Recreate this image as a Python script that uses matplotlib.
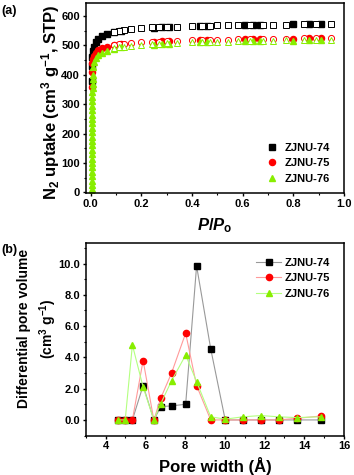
import matplotlib
matplotlib.use("Agg")
import matplotlib.pyplot as plt
from matplotlib.ticker import MultipleLocator, FormatStrFormatter

plt.rcParams['font.family'] = ['Liberation Sans', 'DejaVu Sans']
plt.rcParams['font.weight'] = 'bold'
plt.rcParams['mathtext.fontset'] = 'custom'
plt.rcParams['mathtext.rm'] = 'Liberation Sans:bold'
plt.rcParams['mathtext.it'] = 'Liberation Sans:italic:bold'
plt.rcParams['mathtext.bf'] = 'Liberation Sans:bold'

# ---------------- (a) N2 isotherms ----------------
labels = ['ZJNU-74', 'ZJNU-75', 'ZJNU-76']
colors = ['#000000', '#ff0000', '#88ee00']
markers = ['s', 'o', '^']

ads_p = [0.006, 0.006, 0.006, 0.008, 0.012, 0.02, 0.03, 0.045, 0.065, 0.09, 0.12,
         0.25, 0.28, 0.31, 0.43, 0.46, 0.61, 0.64, 0.67, 0.80, 0.86, 0.91]
ads_74 = [380, 430, 460, 480, 495, 510, 522, 532, 539, 544, 548,
          560, 561, 563, 566, 567, 569, 569, 570, 572, 572, 573]
ads_75 = [360, 410, 440, 455, 465, 475, 483, 490, 496, 501, 505,
          513, 514, 515, 518, 519, 521, 521, 522, 523, 524, 524]
des_p = [0.95, 0.89, 0.84, 0.77, 0.72, 0.68, 0.63, 0.58, 0.54, 0.50, 0.47, 0.44,
         0.40, 0.34, 0.30, 0.27, 0.24, 0.20, 0.16, 0.13, 0.11, 0.09]
des_74 = [574, 573, 572, 571, 571, 570, 569, 569, 568, 568, 567, 566,
          566, 564, 563, 562, 561, 558, 555, 552, 549, 546]
des_75 = [526, 525, 524, 523, 523, 522, 521, 521, 520, 520, 519, 518,
          517, 515, 514, 513, 512, 510, 508, 506, 504, 502]

ads76_p = [0.005, 0.005, 0.005, 0.005, 0.005, 0.005, 0.005, 0.006, 0.006, 0.006,
           0.006, 0.006, 0.006, 0.006, 0.006, 0.006, 0.006, 0.006, 0.006, 0.006,
           0.006, 0.006, 0.006, 0.006, 0.007, 0.007, 0.007, 0.008, 0.010, 0.014,
           0.02, 0.03, 0.045, 0.065, 0.09, 0.12,
           0.25, 0.28, 0.31, 0.43, 0.46, 0.61, 0.64, 0.67, 0.80, 0.86, 0.91]
ads_76 = [0, 12, 25, 40, 55, 70, 85, 100, 115, 130,
          145, 160, 175, 190, 205, 220, 235, 250, 265, 280,
          295, 310, 325, 340, 355, 370, 385, 400, 425, 445,
          456, 466, 475, 482, 488, 493,
          503, 505, 506, 510, 511, 514, 514, 515, 516, 517, 517]
des_76 = [519, 518, 518, 517, 516, 516, 515, 514, 513, 513, 512, 511,
          510, 508, 507, 506, 504, 502, 499, 496, 494, 491]

# ---------------- (b) pore size distribution ----------------
pore_w = [4.62, 4.99, 5.35, 5.89, 6.43, 6.78, 7.32, 8.03, 8.58, 9.29,
          10.02, 10.91, 11.82, 12.71, 13.61, 14.82]
psd_74 = [0.0, 0.0, 0.0, 2.2, 0.0, 0.85, 0.9, 1.0, 9.85, 4.55,
          0.0, 0.0, 0.0, 0.0, 0.0, 0.0]
psd_75 = [0.0, 0.0, 0.0, 3.8, 0.0, 1.4, 3.0, 5.55, 2.2, 0.0,
          0.0, 0.0, 0.0, 0.0, 0.1, 0.25]
psd_76 = [0.0, 0.0, 4.8, 2.1, 0.0, 1.05, 2.5, 4.15, 2.45, 0.2,
          0.05, 0.2, 0.28, 0.2, 0.15, 0.2]
line_colors = ['#999999', '#ff9a9a', '#b4ff80']

fig = plt.figure(figsize=(3.54, 4.75), dpi=100)
ax1 = fig.add_axes([0.242, 0.593, 0.730, 0.400])
ax2 = fig.add_axes([0.242, 0.083, 0.730, 0.405])

ads_sets = [(ads_p, ads_74), (ads_p, ads_75), (ads76_p, ads_76)]
des_sets = [(des_p, des_74), (des_p, des_75), (des_p, des_76)]
for i in range(3):
    ax1.plot(ads_sets[i][0], ads_sets[i][1], linestyle='none', marker=markers[i],
             color=colors[i], markersize=4.4, label=labels[i])
    ax1.plot(des_sets[i][0], des_sets[i][1], linestyle='none', marker=markers[i],
             markerfacecolor='white', markeredgecolor=colors[i], markeredgewidth=0.7,
             markersize=4.4)

ax1.set_xlim(-0.02, 1.0)
ax1.set_ylim(-3, 643)
ax1.xaxis.set_major_locator(MultipleLocator(0.2))
ax1.xaxis.set_minor_locator(MultipleLocator(0.1))
ax1.xaxis.set_major_formatter(FormatStrFormatter('%.1f'))
ax1.yaxis.set_major_locator(MultipleLocator(100))
ax1.yaxis.set_minor_locator(MultipleLocator(50))
ax1.set_xlabel(r'$P/P_\mathrm{o}$', fontsize=12, labelpad=5)
ax1.set_ylabel(r'N$_2$ uptake (cm$^3$ g$^{-1}$, STP)', fontsize=12, fontweight='bold')
ax1.yaxis.set_label_coords(-0.09, 0.48)
ax1.legend(loc='lower right', frameon=False, fontsize=8, handletextpad=0.5,
           labelspacing=0.5, borderaxespad=0.3, handlelength=1.2,
           bbox_to_anchor=(0.975, 0.01))

for i, vals in enumerate([psd_74, psd_75, psd_76]):
    ax2.plot(pore_w, vals, color=line_colors[i], linewidth=0.8, marker=markers[i],
             markerfacecolor=colors[i], markeredgecolor=colors[i], markersize=4.5,
             label=labels[i])
ax2.set_xlim(3, 16)
ax2.set_ylim(-1, 11.3)
ax2.xaxis.set_major_locator(MultipleLocator(2))
ax2.xaxis.set_minor_locator(MultipleLocator(1))
ax2.yaxis.set_major_locator(MultipleLocator(2))
ax2.yaxis.set_minor_locator(MultipleLocator(1))
ax2.yaxis.set_major_formatter(FormatStrFormatter('%.1f'))
ax2.set_xlabel('Pore width (\u00c5)', fontsize=12, fontweight='bold', labelpad=4)
ax2.set_ylabel('Differential pore volume\n(cm$^3$ g$^{-1}$)', fontsize=10,
               fontweight='bold', linespacing=1.4)
ax2.yaxis.set_label_coords(-0.105, 0.555)
ax2.legend(loc='upper right', frameon=False, fontsize=8, handletextpad=0.3,
           labelspacing=0.5, handlelength=2.2, borderaxespad=0.9,
           bbox_to_anchor=(1.0, 1.0))

for ax in (ax1, ax2):
    for s in ax.spines.values():
        s.set_linewidth(1.1)
    ax.tick_params(which='major', direction='out', length=2.5, width=1.0,
                   labelsize=8, pad=1.5)
    ax.tick_params(which='minor', direction='out', length=1.5, width=0.8)
    for lab in ax.get_xticklabels() + ax.get_yticklabels():
        lab.set_fontweight('bold')

fig.text(0.005, 0.99, '(a)', fontsize=9, fontweight='bold', va='top', ha='left')
fig.text(0.005, 0.487, '(b)', fontsize=9, fontweight='bold', va='top', ha='left')

fig.savefig('out.png', dpi=100)
